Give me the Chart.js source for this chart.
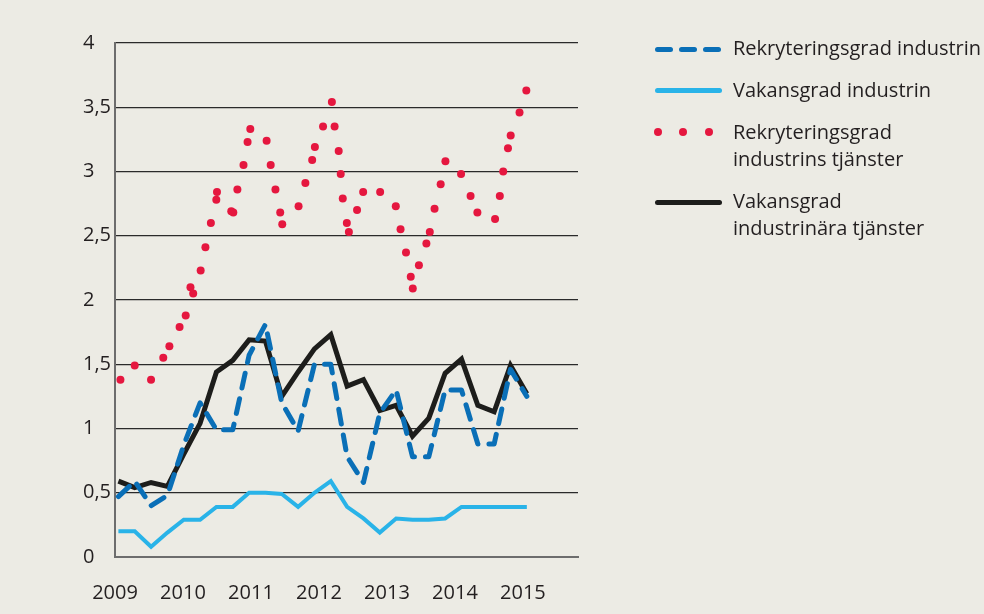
<!DOCTYPE html>
<html lang="sv">
<head>
<meta charset="utf-8">
<script src="https://cdn.jsdelivr.net/npm/chart.js@4.4.1/dist/chart.umd.min.js"></script>
<style>
html, body { margin: 0; padding: 0; background: #ecebe4; overflow: hidden; }
#wrap { position: relative; width: 984px; height: 614px; }
#diagram { position: absolute; left: 0; top: 0; }
.text { position: absolute; left: 733px; font-family: "Open Sans", sans-serif; font-size: 20px;
        line-height: 26.5px; color: #231f20; white-space: nowrap; }
.prov { position: absolute; border-radius: 3px; }
.streck { height: 5px; width: 18px; background: #0a6fb7; }
.prick { width: 8px; height: 8px; border-radius: 4px; background: #e5173f; }
</style>
</head>
<body>
<div id="wrap">
  <canvas id="diagram" width="984" height="614"></canvas>

  <div class="prov streck" style="left:655px;top:47px"></div>
  <div class="prov streck" style="left:679px;top:47px"></div>
  <div class="prov streck" style="left:703px;top:47px"></div>
  <div class="text" style="top:35px">Rekryteringsgrad industrin</div>

  <div class="prov" style="left:655px;top:88px;width:67px;height:5px;background:#29b3e8"></div>
  <div class="text" style="top:77px">Vakansgrad industrin</div>

  <div class="prov prick" style="left:654px;top:128px"></div>
  <div class="prov prick" style="left:679px;top:128px"></div>
  <div class="prov prick" style="left:705px;top:128px"></div>
  <div class="text" style="top:119px">Rekryteringsgrad<br>industrins tjänster</div>

  <div class="prov" style="left:655px;top:200px;width:67px;height:5px;background:#1d1d1b"></div>
  <div class="text" style="top:188px">Vakansgrad<br>industrinära tjänster</div>
</div>

<script>
// år som visas på x-axeln
var ar = [2009, 2010, 2011, 2012, 2013, 2014, 2015];
var yTicks = [0, 0.5, 1, 1.5, 2, 2.5, 3, 3.5, 4];

// kvartalsserier, första kvartalet strax efter årsskiftet 2009
var forstaKvartal = 2009.05;
var kvartalSteg = 0.2403;

var rekryteringIndustrin = [0.47, 0.59, 0.40, 0.48, 0.87, 1.20, 0.99, 0.99, 1.57, 1.81, 1.20, 0.98, 1.50,
                            1.50, 0.78, 0.58, 1.12, 1.30, 0.78, 0.78, 1.30, 1.30, 0.88, 0.88, 1.46, 1.25];
var vakansIndustrin = [0.20, 0.20, 0.08, 0.19, 0.29, 0.29, 0.39, 0.39, 0.50, 0.50, 0.49, 0.39, 0.50,
                       0.59, 0.39, 0.30, 0.19, 0.30, 0.29, 0.29, 0.30, 0.39, 0.39, 0.39, 0.39, 0.39];
var vakansTjanster = [0.59, 0.54, 0.58, 0.55, 0.80, 1.04, 1.44, 1.53, 1.69, 1.68, 1.25, 1.44, 1.62,
                      1.73, 1.33, 1.38, 1.14, 1.18, 0.94, 1.08, 1.43, 1.54, 1.18, 1.13, 1.49, 1.27];

// rekryteringsgrad industrins tjänster, tätare mätpunkter
var tjansterTid = [2009.08, 2009.29, 2009.53, 2009.71, 2009.80, 2009.95, 2010.04, 2010.11, 2010.15, 2010.26,
                   2010.33, 2010.41, 2010.49, 2010.50, 2010.71, 2010.74, 2010.80, 2010.89, 2010.95, 2010.99,
                   2011.23, 2011.29, 2011.36, 2011.43, 2011.46, 2011.70, 2011.80, 2011.90, 2011.94, 2012.06,
                   2012.19, 2012.23, 2012.29, 2012.32, 2012.35, 2012.41, 2012.44, 2012.56, 2012.65, 2012.90,
                   2013.13, 2013.20, 2013.28, 2013.35, 2013.38, 2013.47, 2013.58, 2013.63, 2013.70, 2013.79,
                   2013.86, 2014.09, 2014.23, 2014.33, 2014.59, 2014.66, 2014.71, 2014.78, 2014.82, 2014.95,
                   2015.05];
var rekryteringTjanster = [1.38, 1.49, 1.38, 1.55, 1.64, 1.79, 1.88, 2.10, 2.05, 2.23,
                           2.41, 2.60, 2.78, 2.84, 2.69, 2.68, 2.86, 3.05, 3.23, 3.33,
                           3.24, 3.05, 2.86, 2.68, 2.59, 2.73, 2.91, 3.09, 3.19, 3.35,
                           3.54, 3.35, 3.16, 2.98, 2.79, 2.60, 2.53, 2.70, 2.84, 2.84,
                           2.73, 2.55, 2.37, 2.18, 2.09, 2.27, 2.44, 2.53, 2.71, 2.90,
                           3.08, 2.98, 2.81, 2.68, 2.63, 2.81, 3.00, 3.18, 3.28, 3.46,
                           3.63];

function kvartal(serie) {
    return serie.map(function (v, i) {
        return { x: forstaKvartal + i * kvartalSteg, y: v };
    });
}

var punkter = tjansterTid.map(function (t, i) {
    return { x: t, y: rekryteringTjanster[i] };
});

var typsnitt = { family: '"Open Sans", sans-serif', size: 20 };

var config = {
    type: 'line',
    data: {
        datasets: [{
            label: 'Rekryteringsgrad industrin',
            data: kvartal(rekryteringIndustrin),
            borderColor: '#0a6fb7',
            borderWidth: 5,
            borderDash: [15, 11],
            borderCapStyle: 'round',
            borderJoinStyle: 'round',
            pointRadius: 0
        }, {
            label: 'Vakansgrad industrin',
            data: kvartal(vakansIndustrin),
            borderColor: '#29b3e8',
            borderWidth: 4,
            borderJoinStyle: 'miter',
            pointRadius: 0
        }, {
            label: 'Rekryteringsgrad industrins tjänster',
            data: punkter,
            showLine: false,
            pointRadius: 4,
            pointBorderWidth: 0,
            pointBackgroundColor: '#e5173f'
        }, {
            label: 'Vakansgrad industrinära tjänster',
            data: kvartal(vakansTjanster),
            borderColor: '#1d1d1b',
            borderWidth: 5,
            borderJoinStyle: 'miter',
            pointRadius: 0
        }]
    },
    options: {
        responsive: false,
        animation: false,
        layout: { padding: { left: 83, top: 43, right: 406, bottom: 0 } },
        plugins: { legend: { display: false }, tooltip: { enabled: false } },
        scales: {
            x: {
                type: 'linear',
                min: 2009,
                max: 2015.81,
                afterBuildTicks: function (scale) {
                    scale.ticks = ar.map(function (v) { return { value: v }; });
                },
                afterFit: function (scale) { scale.height = 57; },
                grid: { display: false },
                border: { display: true, color: '#6d6d6d', width: 2 },
                ticks: {
                    padding: 16,
                    color: '#231f20',
                    font: typsnitt,
                    maxRotation: 0,
                    callback: function (v) { return String(v); }
                }
            },
            y: {
                min: 0,
                max: 4,
                afterBuildTicks: function (scale) {
                    scale.ticks = yTicks.map(function (v) { return { value: v }; });
                },
                afterFit: function (scale) { scale.width = 32; },
                grid: {
                    drawTicks: false,
                    color: function (c) { return c.tick.value === 0 ? 'rgba(0,0,0,0)' : '#2a2a2a'; },
                    lineWidth: 1.3
                },
                border: { display: true, color: '#6d6d6d', width: 2 },
                ticks: {
                    crossAlign: 'far',
                    padding: 8,
                    color: '#231f20',
                    font: typsnitt,
                    callback: function (v) { return String(v).replace('.', ','); }
                }
            }
        }
    }
};

window.diagram = new Chart(document.getElementById('diagram'), config);
</script>
</body>
</html>
